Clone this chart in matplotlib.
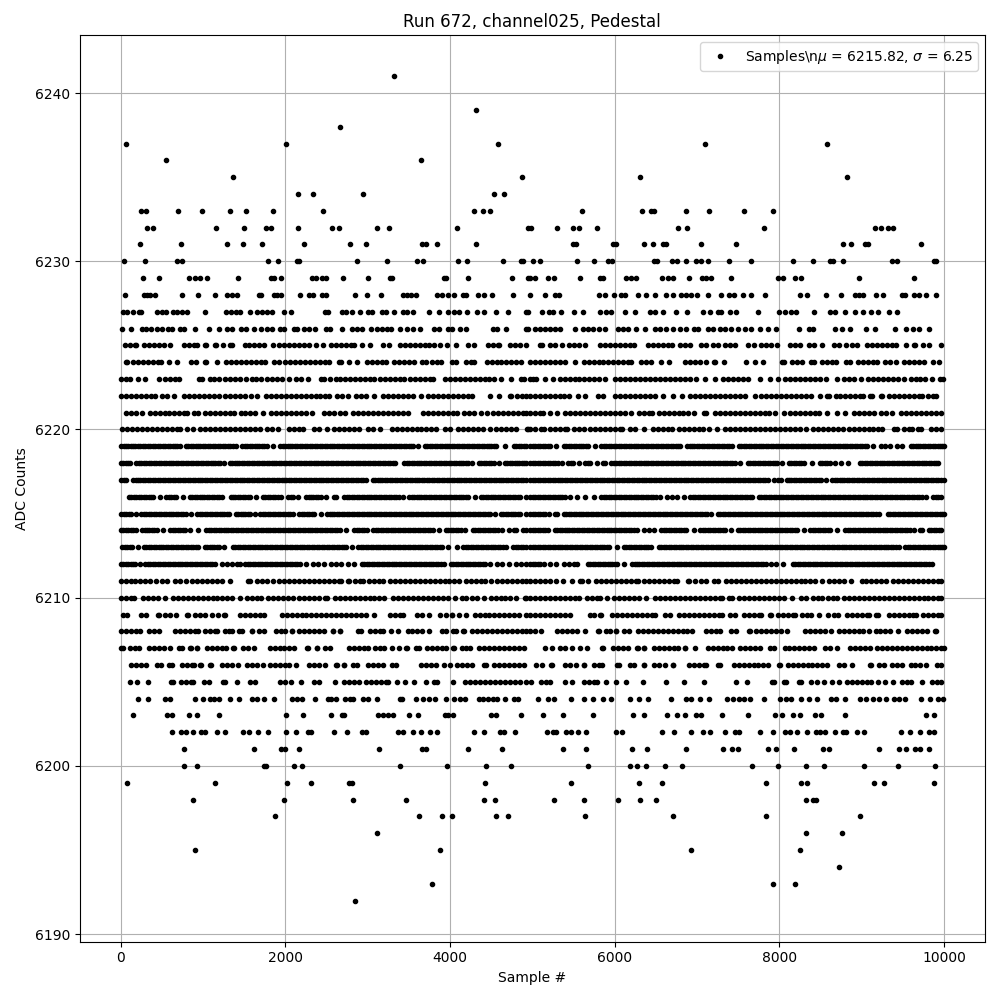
import matplotlib
matplotlib.use("Agg")
import matplotlib.pyplot as plt

title = "Run 672, channel025, Pedestal"
legend_label = "Samples\\n$\\mu$ = 6215.82, $\\sigma$ = 6.25"

x_6241 = [3317]
x_6239 = [4311]
x_6238 = [2662]
x_6237 = [69, 2008, 4589, 7102, 8584]
x_6236 = [553, 3644]
x_6235 = [1366, 4880, 6312, 8827]
x_6234 = [2153, 2335, 2941, 4529, 4662]
x_6233 = [250, 311, 699, 990, 1329, 1523, 1850, 2456, 4286, 4396, 4492, 5607, 6336, 6446, 6478, 6871, 7150, 7575, 7928]
x_6232 = [323, 396, 1159, 1499, 1765, 1826, 2153, 2565, 2650, 3111, 3256, 4080, 4949, 4979, 5303, 5498, 5571, 5789, 6774, 6883, 7818, 9167, 9232, 9321, 9382]
x_6231 = [238, 735, 1293, 1487, 1717, 2226, 2784, 2977, 3664, 3705, 3838, 4311, 5498, 5530, 5980, 6020, 6360, 6470, 6591, 6624, 7053, 7478, 8778, 8875, 9038, 9078, 9726]
x_6230 = [44, 299, 687, 747, 1790, 1915, 2141, 2165, 2868, 3232, 3604, 3672, 4092, 4202, 4650, 4868, 4892, 5012, 5097, 5538, 5753, 5919, 5968, 6478, 6510, 6693, 6761, 6863, 6992, 7053, 7130, 7393, 7660, 8163, 8414, 8612, 8653, 8778, 9366, 9434, 9880, 9904]
x_6229 = [275, 469, 836, 909, 970, 1050, 1426, 1826, 1866, 1947, 2323, 2371, 2440, 2493, 2699, 3002, 3268, 3293, 3923, 3947, 4214, 4759, 4949, 4967, 5028, 5190, 5263, 5583, 5822, 5858, 6142, 6194, 6263, 6579, 6648, 6709, 6899, 7065, 7114, 7175, 7418, 7985, 8045, 8195, 8268, 8973, 9633]
x_6228 = [57, 287, 323, 360, 420, 747, 941, 1147, 1293, 1353, 1414, 1681, 1705, 1862, 1899, 1951, 2178, 2287, 2335, 2444, 2493, 2844, 2990, 3167, 3426, 3474, 3523, 3583, 3838, 3899, 3979, 4044, 4153, 4190, 4335, 4408, 4505, 4771, 4967, 5158, 5271, 5328, 5806, 5887, 5988, 6073, 6130, 6284, 6385, 6486, 6628, 6709, 6802, 6871, 6932, 7000, 7138, 7296, 7393, 7450, 7563, 7660, 7831, 8256, 8341, 8572, 8754, 8916, 8965, 9017, 9179, 9264, 9491, 9524, 9633, 9698, 9787, 9908]
x_6227 = [28, 77, 154, 226, 250, 444, 505, 545, 638, 687, 747, 808, 1026, 1281, 1337, 1398, 1446, 1572, 1656, 1717, 1778, 1838, 1984, 2068, 2481, 2517, 2687, 2735, 2808, 2905, 3002, 3050, 3171, 3220, 3317, 3426, 3474, 3547, 3741, 3862, 3979, 4044, 4105, 4202, 4323, 4408, 4565, 4699, 4929, 4947, 5120, 5198, 5251, 5352, 5502, 5615, 5818, 5899, 5960, 6122, 6251, 6425, 6486, 6587, 6749, 6883, 7073, 7162, 7255, 7296, 7397, 7478, 7737, 7993, 8065, 8138, 8207, 8418, 8612, 8681, 8794, 8916, 9017, 9119, 9200, 9329, 9426]
x_6226 = [20, 129, 263, 311, 364, 444, 505, 578, 626, 727, 768, 909, 1071, 1196, 1293, 1353, 1462, 1519, 1620, 1709, 1778, 1838, 1939, 1980, 2101, 2141, 2222, 2283, 2363, 2493, 2545, 2687, 2808, 2868, 2929, 3038, 3111, 3171, 3232, 3280, 3390, 3474, 3555, 3636, 3806, 3866, 3971, 4020, 4121, 4190, 4525, 4577, 4686, 4929, 4947, 5028, 5089, 5150, 5210, 5271, 5332, 5522, 5615, 5676, 5737, 5806, 5879, 6040, 6101, 6162, 6263, 6365, 6486, 6547, 6628, 6709, 6790, 6871, 6960, 7012, 7134, 7195, 7276, 7336, 7417, 7498, 7579, 7660, 7762, 7863, 7964, 8244, 8357, 8410, 8673, 8762, 8863, 9050, 9163, 9410, 9544, 9625, 9694, 9815]
x_6225 = [50, 110, 170, 192, 285, 345, 405, 465, 525, 596, 765, 825, 885, 927, 1028, 1033, 1141, 1154, 1242, 1323, 1356, 1505, 1565, 1625, 1685, 1745, 1849, 1929, 1990, 2050, 2110, 2170, 2230, 2290, 2374, 2454, 2555, 2615, 2675, 2735, 2795, 2838, 2929, 3026, 3189, 3263, 3395, 3455, 3515, 3575, 3635, 3695, 3747, 3808, 3877, 3969, 4078, 4220, 4293, 4458, 4518, 4578, 4600, 4733, 4793, 4853, 4919, 5098, 5119, 5212, 5272, 5355, 5443, 5503, 5563, 5646, 5827, 5887, 5947, 6007, 6067, 6127, 6187, 6237, 6403, 6463, 6523, 6583, 6643, 6699, 6791, 6851, 6910, 7055, 7104, 7196, 7258, 7346, 7406, 7468, 7617, 7691, 7779, 7839, 7899, 7970, 8136, 8196, 8246, 8359, 8419, 8513, 8662, 8722, 8805, 8885, 8939, 9068, 9128, 9188, 9248, 9308, 9368, 9413, 9534, 9635, 9648, 9748, 9818, 9969]
x_6224 = [62, 75, 151, 211, 271, 331, 391, 451, 495, 586, 687, 850, 919, 1020, 1041, 1173, 1282, 1342, 1402, 1462, 1522, 1582, 1642, 1702, 1748, 1860, 1921, 1998, 2058, 2118, 2178, 2238, 2298, 2358, 2418, 2478, 2535, 2656, 2677, 2777, 2867, 2991, 3051, 3111, 3171, 3218, 3318, 3378, 3438, 3498, 3558, 3666, 3707, 3787, 3847, 3897, 4030, 4071, 4191, 4251, 4293, 4446, 4506, 4566, 4626, 4686, 4746, 4806, 4859, 4977, 5037, 5097, 5157, 5217, 5277, 5337, 5403, 5524, 5625, 5685, 5745, 5805, 5865, 5925, 5985, 6045, 6105, 6165, 6193, 6322, 6382, 6436, 6567, 6664, 6852, 6912, 6972, 7032, 7104, 7205, 7225, 7330, 7599, 7705, 7806, 8035, 8056, 8156, 8216, 8279, 8391, 8420, 8521, 8581, 8641, 8692, 8816, 8857, 8954, 9014, 9074, 9134, 9190, 9282, 9342, 9413, 9513, 9573, 9633, 9693, 9757, 9865, 9939]
x_6223 = [5, 60, 110, 210, 290, 465, 543, 600, 655, 709, 947, 992, 1080, 1135, 1200, 1270, 1330, 1390, 1450, 1525, 1593, 1650, 1707, 1775, 1840, 1900, 1960, 2050, 2130, 2190, 2273, 2434, 2475, 2547, 2610, 2670, 2730, 2790, 2850, 2910, 2970, 3030, 3081, 3153, 3215, 3275, 3335, 3395, 3444, 3516, 3580, 3640, 3700, 3760, 3788, 3937, 4000, 4060, 4120, 4180, 4240, 4300, 4360, 4420, 4480, 4540, 4616, 4739, 4868, 4900, 4977, 5006, 5050, 5160, 5250, 5333, 5393, 5453, 5513, 5573, 5633, 5693, 5753, 5813, 5889, 6010, 6070, 6130, 6190, 6250, 6310, 6370, 6430, 6490, 6550, 6610, 6670, 6730, 6790, 6850, 6910, 6990, 7103, 7225, 7314, 7374, 7434, 7494, 7554, 7622, 7763, 7886, 7990, 8075, 8135, 8195, 8255, 8315, 8375, 8435, 8495, 8562, 8705, 8792, 8852, 8912, 8987, 9080, 9140, 9200, 9260, 9320, 9380, 9440, 9514, 9595, 9655, 9715, 9775, 9850, 9950, 9985]
x_6222 = [10, 70, 130, 190, 250, 310, 370, 414, 503, 560, 645, 770, 830, 890, 950, 1010, 1070, 1130, 1190, 1270, 1330, 1390, 1450, 1510, 1586, 1656, 1767, 1827, 1887, 1947, 2007, 2067, 2127, 2187, 2247, 2307, 2367, 2427, 2487, 2535, 2628, 2690, 2766, 2858, 2920, 2980, 3073, 3189, 3249, 3309, 3369, 3429, 3489, 3549, 3646, 3735, 3795, 3855, 3915, 3975, 4035, 4095, 4155, 4215, 4265, 4486, 4596, 4729, 4737, 4818, 4878, 4919, 4977, 5037, 5097, 5157, 5217, 5277, 5337, 5382, 5450, 5552, 5646, 5795, 5860, 6010, 6070, 6130, 6190, 6250, 6310, 6370, 6430, 6490, 6590, 6706, 6820, 6920, 6980, 7040, 7100, 7160, 7220, 7280, 7340, 7400, 7460, 7520, 7578, 7701, 7784, 7844, 7904, 7964, 8024, 8084, 8144, 8204, 8264, 8324, 8384, 8489, 8574, 8602, 8683, 8743, 8803, 8863, 8923, 8983, 9016, 9100, 9130, 9237, 9250, 9338, 9398, 9458, 9518, 9578, 9638, 9698, 9728, 9805, 9865, 9907]
x_6221 = [70, 130, 190, 265, 353, 413, 473, 533, 593, 653, 713, 773, 806, 887, 940, 1028, 1088, 1148, 1208, 1268, 1328, 1376, 1456, 1516, 1576, 1636, 1727, 1828, 1888, 1948, 2008, 2068, 2128, 2188, 2248, 2325, 2466, 2526, 2586, 2669, 2727, 2826, 2886, 2946, 3006, 3066, 3126, 3186, 3246, 3306, 3366, 3426, 3493, 3674, 3734, 3794, 3854, 3914, 3978, 4038, 4091, 4171, 4231, 4291, 4382, 4456, 4527, 4587, 4647, 4707, 4767, 4827, 4887, 4919, 4977, 5037, 5097, 5128, 5212, 5302, 5402, 5462, 5522, 5582, 5642, 5702, 5762, 5822, 5882, 5942, 6002, 6062, 6122, 6205, 6293, 6353, 6413, 6456, 6536, 6596, 6656, 6716, 6776, 6836, 6896, 6970, 7091, 7112, 7225, 7285, 7345, 7405, 7465, 7525, 7585, 7645, 7705, 7765, 7825, 7874, 7954, 8056, 8128, 8188, 8248, 8308, 8368, 8428, 8481, 8584, 8703, 8793, 8906, 8966, 9026, 9086, 9150, 9237, 9297, 9364, 9480, 9540, 9600, 9660, 9720, 9780, 9840, 9900, 9960]
x_6220 = [20, 80, 140, 200, 260, 320, 380, 440, 500, 560, 620, 680, 717, 810, 879, 967, 1027, 1087, 1147, 1207, 1267, 1327, 1387, 1447, 1507, 1567, 1627, 1695, 1775, 1840, 1909, 2050, 2110, 2170, 2212, 2353, 2413, 2503, 2595, 2655, 2715, 2775, 2835, 2891, 3007, 3067, 3150, 3294, 3354, 3414, 3474, 3534, 3594, 3654, 3714, 3774, 3828, 3937, 3998, 4098, 4158, 4218, 4278, 4338, 4398, 4483, 4563, 4623, 4683, 4743, 4798, 4930, 4945, 4972, 5038, 5100, 5148, 5220, 5280, 5340, 5400, 5423, 5503, 5563, 5623, 5695, 5767, 5827, 5887, 5947, 6007, 6067, 6090, 6192, 6252, 6355, 6463, 6523, 6583, 6643, 6699, 6779, 6839, 6899, 6959, 7019, 7079, 7144, 7240, 7346, 7406, 7466, 7526, 7586, 7646, 7706, 7766, 7826, 7886, 7946, 8006, 8066, 8126, 8186, 8246, 8319, 8411, 8471, 8531, 8591, 8651, 8711, 8772, 8844, 8904, 8964, 9024, 9084, 9144, 9204, 9250, 9399, 9433, 9514, 9574, 9607, 9684, 9720, 9840, 9900, 9960]
x_6219 = [5, 60, 120, 180, 240, 300, 360, 420, 480, 540, 600, 660, 717, 790, 850, 910, 970, 1030, 1090, 1150, 1210, 1270, 1330, 1404, 1476, 1536, 1596, 1656, 1716, 1776, 1848, 1937, 1997, 2057, 2117, 2177, 2237, 2297, 2357, 2417, 2477, 2537, 2597, 2657, 2717, 2777, 2837, 2897, 2957, 3017, 3077, 3137, 3197, 3257, 3317, 3377, 3437, 3497, 3557, 3606, 3694, 3754, 3814, 3874, 3934, 3994, 4054, 4114, 4174, 4234, 4294, 4354, 4414, 4474, 4534, 4563, 4666, 4777, 4837, 4897, 4919, 4977, 5037, 5097, 5157, 5217, 5290, 5382, 5442, 5502, 5562, 5622, 5682, 5767, 5840, 5900, 5960, 6020, 6080, 6140, 6200, 6260, 6320, 6380, 6440, 6500, 6560, 6620, 6680, 6740, 6800, 6880, 6940, 7000, 7060, 7120, 7180, 7240, 7300, 7360, 7420, 7508, 7568, 7628, 7688, 7748, 7808, 7868, 7928, 7988, 8048, 8108, 8168, 8228, 8288, 8348, 8408, 8468, 8528, 8588, 8648, 8708, 8768, 8828, 8888, 8948, 9008, 9068, 9140, 9237, 9290, 9350, 9430, 9495, 9595, 9655, 9715, 9775, 9835, 9895, 9955, 9999]
x_6218 = [5, 60, 111, 192, 252, 312, 372, 432, 492, 552, 612, 672, 732, 792, 852, 912, 972, 1032, 1092, 1152, 1212, 1250, 1323, 1383, 1443, 1503, 1563, 1623, 1683, 1743, 1803, 1863, 1923, 1983, 2043, 2103, 2163, 2223, 2283, 2343, 2403, 2463, 2523, 2583, 2643, 2703, 2763, 2823, 2883, 2943, 3003, 3063, 3123, 3183, 3243, 3303, 3335, 3444, 3504, 3564, 3624, 3684, 3744, 3804, 3864, 3924, 3984, 4044, 4104, 4164, 4224, 4273, 4353, 4413, 4473, 4533, 4596, 4664, 4724, 4784, 4844, 4904, 4919, 4977, 5037, 5097, 5157, 5217, 5277, 5362, 5435, 5495, 5573, 5645, 5705, 5788, 5860, 5889, 5961, 6021, 6081, 6141, 6201, 6261, 6321, 6381, 6441, 6501, 6561, 6621, 6681, 6741, 6801, 6861, 6921, 6981, 7041, 7101, 7161, 7221, 7281, 7341, 7401, 7461, 7529, 7618, 7678, 7738, 7798, 7858, 7918, 7978, 8036, 8116, 8176, 8236, 8296, 8400, 8492, 8552, 8612, 8671, 8755, 8837, 8978, 9038, 9098, 9158, 9218, 9278, 9338, 9398, 9458, 9518, 9578, 9638, 9698, 9758, 9818, 9878, 9927]
x_6217 = [10, 71, 151, 211, 271, 331, 391, 451, 511, 571, 596, 664, 724, 784, 844, 904, 964, 1024, 1084, 1144, 1204, 1264, 1324, 1384, 1444, 1504, 1564, 1624, 1684, 1744, 1804, 1864, 1924, 1984, 2044, 2104, 2164, 2224, 2284, 2344, 2404, 2464, 2524, 2584, 2644, 2704, 2764, 2824, 2884, 2944, 2980, 3060, 3120, 3180, 3240, 3300, 3360, 3420, 3480, 3540, 3600, 3660, 3720, 3780, 3840, 3900, 3960, 4020, 4080, 4140, 4200, 4260, 4320, 4380, 4440, 4500, 4560, 4620, 4680, 4740, 4800, 4860, 4919, 4977, 5037, 5097, 5157, 5217, 5277, 5337, 5397, 5457, 5517, 5577, 5637, 5697, 5757, 5817, 5877, 5937, 5997, 6057, 6117, 6177, 6237, 6297, 6357, 6417, 6477, 6537, 6597, 6657, 6717, 6777, 6837, 6897, 6957, 7017, 7077, 7137, 7197, 7257, 7317, 7377, 7437, 7497, 7557, 7617, 7677, 7737, 7797, 7865, 7942, 8015, 8088, 8148, 8208, 8268, 8328, 8388, 8448, 8508, 8562, 8642, 8702, 8762, 8822, 8882, 8942, 9002, 9062, 9122, 9182, 9242, 9302, 9362, 9422, 9482, 9542, 9602, 9662, 9722, 9782, 9842, 9902, 9962, 9999]
x_6216 = [99, 159, 219, 279, 339, 399, 475, 555, 615, 675, 758, 838, 898, 958, 1018, 1078, 1138, 1198, 1235, 1335, 1395, 1455, 1515, 1575, 1647, 1727, 1787, 1847, 1907, 1950, 2038, 2098, 2152, 2252, 2312, 2372, 2432, 2495, 2595, 2616, 2717, 2777, 2837, 2897, 2957, 3017, 3077, 3137, 3197, 3257, 3317, 3377, 3432, 3504, 3564, 3624, 3684, 3744, 3804, 3864, 3924, 3984, 4044, 4104, 4164, 4224, 4301, 4373, 4433, 4493, 4553, 4613, 4673, 4733, 4793, 4853, 4919, 4977, 5037, 5097, 5157, 5217, 5277, 5337, 5397, 5464, 5544, 5638, 5745, 5840, 5900, 5960, 6020, 6080, 6140, 6200, 6260, 6320, 6380, 6440, 6500, 6549, 6637, 6697, 6757, 6840, 6921, 6981, 7041, 7101, 7161, 7221, 7281, 7341, 7401, 7461, 7521, 7581, 7641, 7671, 7751, 7811, 7871, 7931, 7991, 8051, 8111, 8171, 8231, 8291, 8351, 8411, 8471, 8531, 8591, 8651, 8711, 8771, 8831, 8891, 8951, 9011, 9071, 9131, 9191, 9251, 9311, 9371, 9431, 9491, 9551, 9611, 9671, 9731, 9777, 9869, 9929, 9970]
x_6215 = [10, 70, 130, 184, 252, 312, 372, 432, 492, 552, 612, 672, 732, 792, 859, 931, 991, 1051, 1111, 1171, 1231, 1291, 1315, 1396, 1456, 1516, 1576, 1626, 1698, 1758, 1818, 1878, 1938, 1998, 2058, 2091, 2171, 2231, 2291, 2351, 2434, 2507, 2567, 2627, 2687, 2747, 2807, 2867, 2927, 2987, 3047, 3107, 3167, 3227, 3287, 3347, 3407, 3467, 3527, 3587, 3647, 3707, 3767, 3827, 3887, 3947, 4007, 4067, 4127, 4187, 4247, 4307, 4367, 4427, 4487, 4543, 4616, 4676, 4736, 4796, 4856, 4919, 4977, 5037, 5097, 5157, 5200, 5280, 5302, 5382, 5442, 5502, 5562, 5622, 5682, 5742, 5802, 5862, 5922, 5982, 6042, 6102, 6162, 6222, 6282, 6342, 6402, 6462, 6522, 6582, 6642, 6702, 6762, 6822, 6882, 6942, 7002, 7062, 7122, 7165, 7253, 7313, 7373, 7433, 7493, 7553, 7613, 7673, 7733, 7793, 7853, 7913, 7973, 8033, 8093, 8153, 8213, 8273, 8333, 8393, 8453, 8513, 8573, 8633, 8693, 8753, 8813, 8873, 8933, 8993, 9053, 9113, 9173, 9210, 9318, 9378, 9438, 9498, 9558, 9618, 9678, 9738, 9798, 9858, 9918, 9978, 9999]
x_6214 = [2, 60, 120, 192, 260, 320, 380, 440, 515, 604, 664, 724, 784, 840, 940, 1040, 1100, 1160, 1220, 1280, 1340, 1400, 1460, 1520, 1580, 1640, 1700, 1760, 1820, 1880, 1940, 2000, 2060, 2120, 2180, 2240, 2300, 2360, 2420, 2480, 2540, 2600, 2660, 2737, 2838, 2898, 2958, 2988, 3068, 3128, 3188, 3248, 3308, 3368, 3428, 3488, 3548, 3608, 3668, 3728, 3788, 3869, 3949, 4009, 4069, 4129, 4180, 4280, 4340, 4400, 4460, 4520, 4580, 4636, 4716, 4776, 4806, 4890, 4919, 4977, 5037, 5097, 5157, 5192, 5272, 5332, 5392, 5452, 5512, 5572, 5632, 5692, 5752, 5812, 5872, 5932, 5992, 6052, 6112, 6172, 6232, 6266, 6354, 6414, 6484, 6568, 6628, 6688, 6748, 6808, 6868, 6962, 7042, 7102, 7162, 7222, 7282, 7342, 7408, 7496, 7556, 7616, 7676, 7736, 7796, 7856, 7916, 7976, 8036, 8096, 8156, 8216, 8302, 8379, 8439, 8499, 8559, 8619, 8703, 8804, 8864, 8924, 8984, 9044, 9104, 9164, 9224, 9284, 9344, 9404, 9464, 9524, 9584, 9635, 9707, 9736, 9817, 9877, 9937, 9970]
x_6213 = [18, 78, 138, 212, 280, 340, 400, 460, 520, 580, 640, 700, 760, 820, 880, 940, 1020, 1080, 1140, 1200, 1255, 1363, 1423, 1483, 1543, 1603, 1663, 1723, 1783, 1843, 1903, 1963, 2023, 2083, 2143, 2203, 2263, 2323, 2383, 2443, 2503, 2563, 2623, 2683, 2743, 2810, 2886, 2946, 3006, 3066, 3126, 3186, 3246, 3306, 3366, 3426, 3486, 3546, 3606, 3666, 3726, 3786, 3846, 3906, 3982, 4080, 4163, 4223, 4283, 4343, 4403, 4463, 4523, 4583, 4643, 4685, 4769, 4829, 4889, 4919, 4977, 5037, 5097, 5157, 5217, 5277, 5337, 5397, 5457, 5517, 5577, 5637, 5697, 5757, 5817, 5877, 5937, 6030, 6111, 6171, 6231, 6291, 6351, 6411, 6444, 6536, 6596, 6656, 6716, 6776, 6836, 6896, 6956, 7016, 7076, 7136, 7196, 7256, 7316, 7376, 7436, 7496, 7556, 7616, 7676, 7736, 7796, 7856, 7916, 7976, 8036, 8096, 8156, 8216, 8276, 8336, 8396, 8456, 8516, 8576, 8636, 8696, 8756, 8816, 8876, 8936, 8996, 9056, 9116, 9176, 9236, 9296, 9356, 9416, 9453, 9533, 9593, 9653, 9713, 9773, 9833, 9893, 9953, 9999]
x_6212 = [2, 60, 120, 180, 233, 301, 361, 421, 481, 541, 601, 661, 721, 781, 841, 901, 961, 1021, 1081, 1142, 1234, 1294, 1354, 1414, 1445, 1513, 1573, 1633, 1693, 1753, 1813, 1873, 1933, 1993, 2053, 2113, 2173, 2253, 2333, 2393, 2471, 2555, 2615, 2675, 2758, 2840, 2930, 2990, 3050, 3110, 3170, 3230, 3290, 3350, 3410, 3470, 3530, 3590, 3650, 3710, 3770, 3830, 3890, 3929, 4009, 4069, 4129, 4189, 4249, 4309, 4369, 4429, 4483, 4567, 4627, 4717, 4797, 4857, 4919, 4977, 5037, 5097, 5140, 5212, 5290, 5390, 5450, 5510, 5549, 5674, 5734, 5794, 5854, 5914, 5974, 6034, 6112, 6212, 6272, 6332, 6392, 6452, 6512, 6572, 6632, 6692, 6752, 6812, 6872, 6932, 6992, 7052, 7112, 7172, 7232, 7292, 7352, 7412, 7472, 7532, 7592, 7652, 7712, 7772, 7833, 7901, 7961, 8048, 8164, 8224, 8284, 8344, 8404, 8464, 8524, 8584, 8644, 8704, 8764, 8824, 8884, 8944, 9004, 9064, 9124, 9184, 9244, 9304, 9364, 9424, 9484, 9544, 9604, 9664, 9724, 9784, 9850]
x_6211 = [2, 60, 120, 180, 240, 300, 360, 435, 507, 564, 664, 724, 790, 870, 930, 990, 1050, 1110, 1170, 1230, 1323, 1553, 1566, 1658, 1718, 1778, 1849, 1929, 1989, 2049, 2109, 2169, 2229, 2289, 2349, 2409, 2469, 2529, 2589, 2649, 2677, 2757, 2770, 2850, 2910, 2939, 3020, 3080, 3140, 3190, 3274, 3334, 3394, 3454, 3514, 3574, 3634, 3694, 3754, 3814, 3874, 3934, 3994, 4054, 4111, 4191, 4251, 4311, 4371, 4431, 4503, 4575, 4635, 4695, 4755, 4815, 4875, 4919, 4977, 5037, 5097, 5157, 5217, 5282, 5370, 5484, 5577, 5606, 5680, 5779, 5839, 5899, 5959, 6019, 6079, 6139, 6199, 6259, 6286, 6362, 6422, 6482, 6542, 6602, 6662, 6722, 6760, 6889, 6901, 6982, 7050, 7112, 7204, 7258, 7358, 7418, 7478, 7538, 7598, 7658, 7718, 7778, 7838, 7898, 7958, 8018, 8078, 8138, 8198, 8258, 8318, 8378, 8438, 8522, 8602, 8662, 8722, 8782, 8873, 8999, 9059, 9119, 9179, 9239, 9299, 9383, 9443, 9503, 9563, 9623, 9683, 9743, 9803, 9863, 9923, 9960]
x_6210 = [10, 70, 130, 160, 272, 332, 392, 452, 536, 636, 696, 756, 816, 876, 936, 996, 1056, 1116, 1176, 1236, 1296, 1356, 1445, 1537, 1597, 1657, 1707, 1787, 1847, 1907, 1967, 2027, 2091, 2171, 2231, 2291, 2351, 2414, 2482, 2503, 2603, 2663, 2723, 2783, 2843, 2903, 2963, 3023, 3083, 3141, 3202, 3314, 3374, 3434, 3494, 3554, 3614, 3674, 3734, 3794, 3854, 3914, 3974, 4062, 4143, 4192, 4272, 4332, 4414, 4494, 4554, 4614, 4674, 4734, 4798, 4906, 4919, 4977, 5037, 5097, 5157, 5217, 5277, 5337, 5397, 5457, 5517, 5573, 5666, 5726, 5786, 5828, 5911, 5998, 6058, 6118, 6178, 6238, 6298, 6387, 6496, 6556, 6616, 6676, 6736, 6796, 6856, 6916, 6976, 7036, 7096, 7156, 7216, 7276, 7307, 7387, 7420, 7516, 7576, 7636, 7696, 7756, 7816, 7876, 7936, 7996, 8056, 8157, 8266, 8319, 8411, 8471, 8513, 8590, 8650, 8696, 8792, 8852, 8912, 8972, 9032, 9092, 9152, 9212, 9272, 9332, 9392, 9452, 9512, 9572, 9632, 9692, 9752, 9812, 9872, 9932, 9960]
x_6209 = [30, 79, 252, 313, 462, 455, 543, 603, 669, 810, 818, 899, 959, 1020, 1109, 1182, 1262, 1255, 1452, 1512, 1572, 1632, 1692, 1740, 1957, 2017, 2077, 2137, 2197, 2257, 2317, 2377, 2437, 2497, 2557, 2617, 2677, 2737, 2797, 2857, 2917, 2977, 3073, 3274, 3334, 3394, 3432, 3605, 3665, 3748, 3880, 3949, 4030, 4022, 4110, 4200, 4300, 4360, 4420, 4480, 4540, 4600, 4660, 4720, 4780, 4840, 4919, 4977, 5037, 5097, 5157, 5217, 5277, 5337, 5397, 5464, 5698, 5747, 5835, 5824, 5970, 6030, 6090, 6150, 6210, 6270, 6330, 6390, 6450, 6488, 6617, 6667, 6787, 6847, 6907, 6967, 7027, 7087, 7147, 7207, 7267, 7307, 7399, 7468, 7569, 7629, 7689, 7749, 7772, 7893, 7894, 7982, 8042, 8102, 8162, 8197, 8278, 8338, 8380, 8480, 8594, 8670, 8712, 8824, 8884, 8944, 9004, 9064, 9089, 9169, 9202, 9330, 9390, 9450, 9510, 9570, 9630, 9656, 9748, 9808, 9868, 9928, 9970]
x_6208 = [10, 70, 130, 190, 240, 341, 401, 467, 664, 724, 784, 844, 904, 940, 1028, 1088, 1148, 1170, 1262, 1322, 1352, 1432, 1477, 1593, 1598, 1686, 1740, 1888, 1948, 2002, 2086, 2083, 2171, 2231, 2291, 2351, 2411, 2475, 2575, 2576, 2664, 2665, 2878, 2919, 3027, 3087, 3147, 3190, 3282, 3364, 3485, 3545, 3605, 3665, 3740, 3909, 3958, 4042, 4079, 4171, 4160, 4272, 4332, 4392, 4452, 4512, 4572, 4632, 4692, 4752, 4812, 4872, 4919, 4977, 5037, 5100, 5305, 5365, 5425, 5485, 5545, 5638, 5807, 5800, 5900, 5938, 6022, 6019, 6119, 6180, 6285, 6345, 6405, 6465, 6525, 6585, 6645, 6705, 6765, 6825, 6885, 6934, 7111, 7171, 7231, 7274, 7419, 7477, 7639, 7638, 7723, 7783, 7843, 7903, 7963, 8023, 8096, 8318, 8378, 8438, 8498, 8558, 8623, 8723, 8783, 8843, 8903, 8963, 9023, 9089, 9169, 9229, 9289, 9349, 9445, 9553, 9613, 9673, 9733, 9793, 9901, 9891]
x_6207 = [2, 30, 111, 171, 225, 341, 401, 461, 521, 604, 705, 750, 850, 847, 931, 928, 1052, 1112, 1172, 1232, 1283, 1371, 1364, 1492, 1552, 1618, 1820, 1880, 1940, 1990, 2050, 2103, 2264, 2281, 2385, 2382, 2482, 2544, 2777, 2837, 2897, 2957, 3000, 3088, 3148, 3202, 3294, 3384, 3472, 3473, 3585, 3618, 3727, 3787, 3847, 3907, 3958, 4050, 4042, 4143, 4200, 4240, 4353, 4413, 4473, 4533, 4593, 4653, 4713, 4773, 4833, 4899, 5160, 5242, 5342, 5402, 5484, 5585, 5666, 5848, 5858, 5977, 6037, 6097, 6164, 6281, 6274, 6362, 6363, 6484, 6544, 6604, 6664, 6724, 6772, 6860, 6861, 6982, 7131, 7191, 7251, 7311, 7371, 7420, 7520, 7580, 7640, 7700, 7760, 7893, 7934, 8064, 8124, 8184, 8244, 8304, 8364, 8420, 8561, 8621, 8703, 8865, 8925, 8985, 9045, 9097, 9189, 9249, 9309, 9369, 9429, 9489, 9549, 9609, 9669, 9729, 9789, 9849, 9909, 9969, 9999]
x_6206 = [131, 191, 251, 313, 446, 495, 583, 629, 749, 809, 869, 891, 971, 968, 1093, 1089, 1230, 1290, 1350, 1424, 1533, 1593, 1653, 1727, 1816, 1876, 1936, 1996, 2051, 2131, 2293, 2353, 2413, 2487, 2616, 2624, 2717, 2717, 2818, 2867, 3007, 3067, 3127, 3182, 3294, 3343, 3654, 3714, 3774, 3836, 3929, 3998, 4082, 4142, 4202, 4265, 4414, 4443, 4535, 4595, 4655, 4715, 4775, 4835, 4899, 5050, 5120, 5229, 5234, 5402, 5462, 5537, 5633, 5634, 5747, 5807, 5849, 6030, 6059, 6184, 6233, 6362, 6363, 6484, 6544, 6606, 6710, 6715, 6901, 6961, 7021, 7081, 7116, 7253, 7286, 7447, 7507, 7567, 7627, 7687, 7747, 7807, 7865, 8002, 8003, 8103, 8163, 8223, 8283, 8343, 8403, 8463, 8523, 8574, 8731, 8791, 8886, 9108, 9109, 9210, 9271, 9372, 9432, 9486, 9594, 9654, 9714, 9777, 9910, 9970]
x_6205 = [119, 200, 335, 616, 637, 737, 797, 857, 879, 1008, 1073, 1242, 1263, 1414, 1577, 1626, 1937, 1997, 2071, 2190, 2353, 2414, 2602, 2717, 2777, 2837, 2899, 2979, 3039, 3099, 3159, 3219, 3250, 3353, 3454, 3563, 3705, 3808, 3848, 4036, 4187, 4247, 4307, 4367, 4427, 4487, 4547, 4607, 4667, 4727, 4787, 4847, 4919, 4980, 5110, 5170, 5220, 5393, 5484, 5625, 5685, 5745, 5788, 5899, 6020, 6142, 6348, 6628, 6846, 7089, 7478, 7612, 7913, 7942, 8055, 8084, 8237, 8258, 8391, 8461, 8547, 8642, 8722, 8824, 8884, 8944, 9004, 9064, 9109, 9200, 9289, 9386, 9493, 9553, 9603, 9734, 9857, 9917, 9970]
x_6204 = [214, 335, 533, 594, 909, 998, 1091, 1131, 1200, 1333, 1434, 1600, 1660, 1737, 1866, 2076, 2145, 2202, 2363, 2517, 2554, 2614, 2727, 2788, 2828, 2949, 3010, 3115, 3394, 3422, 3584, 3677, 3746, 3818, 3951, 4052, 4117, 4182, 4355, 4404, 4465, 4525, 4574, 4667, 4780, 4828, 5072, 5190, 5263, 5474, 5627, 5737, 5862, 5960, 6190, 6292, 6409, 6688, 6871, 6932, 7041, 7150, 7369, 7438, 7507, 7571, 7640, 7818, 8005, 8086, 8147, 8269, 8366, 8462, 8633, 8693, 8795, 8977, 9058, 9139, 9208, 9301, 9390, 9451, 9524, 9726, 9827, 9932, 9993]
x_6203 = [154, 566, 626, 832, 933, 1196, 2008, 2214, 2553, 2687, 2719, 3123, 3192, 3252, 3313, 3503, 3608, 3939, 3971, 4032, 4497, 4557, 4868, 5133, 5376, 5741, 6227, 6360, 6640, 6761, 6859, 6992, 7053, 7308, 7624, 7952, 8037, 8171, 8256, 8430, 8511, 8803, 9787, 9884]
x_6202 = [626, 735, 796, 881, 982, 1030, 1172, 1269, 1487, 1559, 1669, 1790, 2008, 2129, 2275, 2311, 2590, 2747, 2937, 2982, 3365, 3426, 3547, 3644, 3753, 3838, 4291, 4408, 4606, 4654, 4796, 5181, 5251, 5292, 5413, 5465, 5559, 5656, 6020, 6093, 6579, 6725, 6932, 7077, 7162, 7345, 7466, 7507, 7770, 7924, 8073, 8134, 8219, 8341, 8450, 8491, 8560, 8681, 8774, 8815, 8948, 9025, 9483, 9592, 9714, 9815, 9876]
x_6201 = [772, 1620, 1947, 1992, 2165, 3135, 3656, 3705, 4214, 4638, 5376, 5656, 6215, 6397, 6871, 7320, 7430, 7503, 7867, 7964, 8183, 8535, 8608, 9216, 9451, 9544, 9653, 9714, 9823]
x_6200 = [772, 929, 1745, 1770, 2109, 2202, 3390, 3959, 4432, 4747, 5680, 6190, 6275, 6385, 6616, 6822, 7673, 7989, 8329, 8547, 9033, 9447, 9896]
x_6199 = [81, 1147, 2020, 2311, 2776, 2816, 4420, 5474, 6300, 6579, 7843, 8268, 8341, 9155, 9276, 9884]
x_6198 = [881, 1984, 2820, 3462, 4408, 4553, 5267, 5631, 6045, 6312, 6506, 8329, 8410, 8450]
x_6197 = [1875, 3620, 3899, 4020, 4565, 4711, 5644, 6713, 7843, 8985]
x_6196 = [3111, 8329, 8766]
x_6195 = [905, 3874, 6932, 8256]
x_6194 = [8725]
x_6193 = [3777, 7928, 8195]
x_6192 = [2844]

# further samples read from the near-continuous core rows
more_6219 = [35, 90, 150, 210, 270, 330, 390, 450, 510, 570, 630, 690, 820, 880, 940, 1000, 1060, 1120, 1180, 1240, 1300, 1365, 1506, 1566, 1626, 1686, 1746, 1967, 2027, 2087, 2147, 2207, 2267, 2327, 2387, 2447, 2507, 2567, 2627, 2687, 2747, 2807, 2867, 2927, 2987, 3047, 3107, 3167, 3227, 3287, 3347, 3407, 3467, 3527, 3724, 3784, 3844, 3904, 3964, 4024, 4084, 4144, 4204, 4264, 4324, 4384, 4444, 4504, 4807, 4867, 5007, 5067, 5127, 5187, 5412, 5472, 5532, 5592, 5652, 5870, 5930, 5990, 6050, 6110, 6170, 6230, 6290, 6350, 6410, 6470, 6530, 6590, 6650, 6710, 6770, 6910, 6970, 7030, 7090, 7150, 7210, 7270, 7330, 7390, 7538, 7598, 7658, 7718, 7778, 7838, 7898, 7958, 8018, 8078, 8138, 8198, 8258, 8318, 8378, 8438, 8498, 8558, 8618, 8678, 8738, 8798, 8858, 8918, 8978, 9038, 9625, 9685, 9745, 9805, 9865, 9925, 9975]
more_6218 = [30, 85, 222, 282, 342, 402, 462, 522, 582, 642, 702, 762, 822, 882, 942, 1002, 1062, 1122, 1182, 1353, 1413, 1473, 1533, 1593, 1653, 1713, 1773, 1833, 1893, 1953, 2013, 2073, 2133, 2193, 2253, 2313, 2373, 2433, 2493, 2553, 2613, 2673, 2733, 2793, 2853, 2913, 2973, 3033, 3093, 3153, 3213, 3273, 3474, 3534, 3594, 3654, 3714, 3774, 3834, 3894, 3954, 4014, 4074, 4134, 4194, 4383, 4443, 4503, 4694, 4754, 4814, 4874, 5007, 5067, 5127, 5187, 5247, 5307, 5465, 5675, 5991, 6051, 6111, 6171, 6231, 6291, 6351, 6411, 6471, 6531, 6591, 6651, 6711, 6771, 6831, 6891, 6951, 7011, 7071, 7131, 7191, 7251, 7311, 7371, 7431, 7648, 7708, 7768, 7828, 7888, 7948, 8146, 8206, 8266, 8522, 8582, 9008, 9068, 9128, 9188, 9248, 9308, 9368, 9428, 9488, 9548, 9608, 9668, 9728, 9788, 9848, 9900]
more_6217 = [40, 181, 241, 301, 361, 421, 481, 541, 630, 694, 754, 814, 874, 934, 994, 1054, 1114, 1174, 1234, 1294, 1354, 1414, 1474, 1534, 1594, 1654, 1714, 1774, 1834, 1894, 1954, 2014, 2074, 2134, 2194, 2254, 2314, 2374, 2434, 2494, 2554, 2614, 2674, 2734, 2794, 2854, 2914, 3090, 3150, 3210, 3270, 3330, 3390, 3450, 3510, 3570, 3630, 3690, 3750, 3810, 3870, 3930, 3990, 4050, 4110, 4170, 4230, 4290, 4350, 4410, 4470, 4530, 4590, 4650, 4710, 4770, 4830, 4890, 5007, 5067, 5127, 5187, 5247, 5307, 5367, 5427, 5487, 5547, 5607, 5667, 5727, 5787, 5847, 5907, 5967, 6027, 6087, 6147, 6207, 6267, 6327, 6387, 6447, 6507, 6567, 6627, 6687, 6747, 6807, 6867, 6927, 6987, 7047, 7107, 7167, 7227, 7287, 7347, 7407, 7467, 7527, 7587, 7647, 7707, 7767, 7830, 7980, 8118, 8178, 8238, 8298, 8358, 8418, 8478, 8672, 8732, 8792, 8852, 8912, 8972, 9032, 9092, 9152, 9212, 9272, 9332, 9392, 9452, 9512, 9572, 9632, 9692, 9752, 9812, 9872, 9932]
more_6216 = [129, 189, 249, 309, 369, 585, 645, 868, 928, 988, 1048, 1108, 1168, 1365, 1425, 1485, 1545, 1757, 1817, 1877, 2068, 2282, 2342, 2402, 2747, 2807, 2867, 2927, 2987, 3047, 3107, 3167, 3227, 3287, 3347, 3534, 3594, 3654, 3714, 3774, 3834, 3894, 3954, 4014, 4074, 4134, 4194, 4403, 4463, 4523, 4583, 4643, 4703, 4763, 4823, 5007, 5067, 5127, 5187, 5247, 5307, 5367, 5870, 5930, 5990, 6050, 6110, 6170, 6230, 6290, 6350, 6410, 6470, 6951, 7011, 7071, 7131, 7191, 7251, 7311, 7371, 7431, 7491, 7551, 7611, 7781, 7841, 7901, 7961, 8021, 8081, 8141, 8201, 8261, 8321, 8381, 8441, 8501, 8561, 8621, 8681, 8741, 8801, 8861, 8921, 8981, 9041, 9101, 9161, 9221, 9281, 9341, 9401, 9461, 9521, 9581, 9641, 9701, 9899]
more_6215 = [40, 100, 282, 342, 402, 462, 522, 582, 642, 702, 762, 961, 1021, 1081, 1141, 1201, 1261, 1426, 1486, 1546, 1728, 1788, 1848, 1908, 1968, 2028, 2201, 2261, 2321, 2537, 2597, 2657, 2717, 2777, 2837, 2897, 2957, 3017, 3077, 3137, 3197, 3257, 3317, 3377, 3437, 3497, 3557, 3617, 3677, 3737, 3797, 3857, 3917, 3977, 4037, 4097, 4157, 4217, 4277, 4337, 4397, 4457, 4646, 4706, 4766, 4826, 5007, 5067, 5127, 5412, 5472, 5532, 5592, 5652, 5712, 5772, 5832, 5892, 5952, 6012, 6072, 6132, 6192, 6252, 6312, 6372, 6432, 6492, 6552, 6612, 6672, 6732, 6792, 6852, 6912, 6972, 7032, 7092, 7283, 7343, 7403, 7463, 7523, 7583, 7643, 7703, 7763, 7823, 7883, 7943, 8003, 8063, 8123, 8183, 8243, 8303, 8363, 8423, 8483, 8543, 8603, 8663, 8723, 8783, 8843, 8903, 8963, 9023, 9083, 9143, 9348, 9408, 9468, 9528, 9588, 9648, 9708, 9768, 9828, 9888, 9948]
more_6214 = [30, 90, 150, 290, 350, 410, 634, 694, 754, 1070, 1130, 1190, 1250, 1310, 1370, 1430, 1490, 1550, 1610, 1670, 1730, 1790, 1850, 1910, 1970, 2030, 2090, 2150, 2210, 2270, 2330, 2390, 2450, 2510, 2570, 2630, 2868, 2928, 3098, 3158, 3218, 3278, 3338, 3398, 3458, 3518, 3578, 3638, 3698, 3758, 3979, 4039, 4099, 4310, 4370, 4430, 4490, 4550, 5007, 5067, 5127, 5302, 5362, 5422, 5482, 5542, 5602, 5662, 5722, 5782, 5842, 5902, 5962, 6022, 6082, 6142, 6202, 6598, 6658, 6718, 6778, 6838, 7072, 7132, 7192, 7252, 7312, 7526, 7586, 7646, 7706, 7766, 7826, 7886, 7946, 8006, 8066, 8126, 8186, 8409, 8469, 8529, 8589, 8834, 8894, 8954, 9014, 9074, 9134, 9194, 9254, 9314, 9374, 9434, 9494, 9554, 9847, 9907]
more_6213 = [48, 108, 310, 370, 430, 490, 550, 610, 670, 730, 790, 850, 910, 1050, 1110, 1170, 1393, 1453, 1513, 1573, 1633, 1693, 1753, 1813, 1873, 1933, 1993, 2053, 2113, 2173, 2233, 2293, 2353, 2413, 2473, 2533, 2593, 2653, 2713, 2916, 2976, 3036, 3096, 3156, 3216, 3276, 3336, 3396, 3456, 3516, 3576, 3636, 3696, 3756, 3816, 3876, 4193, 4253, 4313, 4373, 4433, 4493, 4553, 4613, 4799, 4859, 5007, 5067, 5127, 5187, 5247, 5307, 5367, 5427, 5487, 5547, 5607, 5667, 5727, 5787, 5847, 5907, 6141, 6201, 6261, 6321, 6381, 6566, 6626, 6686, 6746, 6806, 6866, 6926, 6986, 7046, 7106, 7166, 7226, 7286, 7346, 7406, 7466, 7526, 7586, 7646, 7706, 7766, 7826, 7886, 7946, 8006, 8066, 8126, 8186, 8246, 8306, 8366, 8426, 8486, 8546, 8606, 8666, 8726, 8786, 8846, 8906, 8966, 9026, 9086, 9146, 9206, 9266, 9326, 9386, 9563, 9623, 9683, 9743, 9803, 9863, 9923, 9975]
more_6212 = [30, 90, 150, 331, 391, 451, 511, 571, 631, 691, 751, 811, 871, 931, 991, 1051, 1112, 1543, 1603, 1663, 1723, 1783, 1843, 1903, 1963, 2023, 2083, 2143, 2960, 3020, 3080, 3140, 3200, 3260, 3320, 3380, 3440, 3500, 3560, 3620, 3680, 3740, 3800, 3860, 4039, 4099, 4159, 4219, 4279, 4339, 4399, 5007, 5067, 5704, 5764, 5824, 5884, 5944, 6004, 6242, 6302, 6362, 6422, 6482, 6542, 6602, 6662, 6722, 6782, 6842, 6902, 6962, 7022, 7082, 7142, 7202, 7262, 7322, 7382, 7442, 7502, 7562, 7622, 7682, 7742, 7802, 8194, 8254, 8314, 8374, 8434, 8494, 8554, 8614, 8674, 8734, 8794, 8854, 8914, 8974, 9034, 9094, 9154, 9214, 9274, 9334, 9394, 9454, 9514, 9574, 9634, 9694, 9754, 9814]

levels = [6241, 6239, 6238, 6237, 6236, 6235, 6234, 6233, 6232, 6231, 6230, 6229, 6228,
          6227, 6226, 6225, 6224, 6223, 6222, 6221, 6220, 6219, 6218, 6217, 6216, 6215,
          6214, 6213, 6212, 6211, 6210, 6209, 6208, 6207, 6206, 6205, 6204, 6203, 6202,
          6201, 6200, 6199, 6198, 6197, 6196, 6195, 6194, 6193, 6192,
          6219, 6218, 6217, 6216, 6215, 6214, 6213, 6212]
rows = [x_6241, x_6239, x_6238, x_6237, x_6236, x_6235, x_6234, x_6233, x_6232, x_6231, x_6230, x_6229, x_6228,
        x_6227, x_6226, x_6225, x_6224, x_6223, x_6222, x_6221, x_6220, x_6219, x_6218, x_6217, x_6216, x_6215,
        x_6214, x_6213, x_6212, x_6211, x_6210, x_6209, x_6208, x_6207, x_6206, x_6205, x_6204, x_6203, x_6202,
        x_6201, x_6200, x_6199, x_6198, x_6197, x_6196, x_6195, x_6194, x_6193, x_6192,
        more_6219, more_6218, more_6217, more_6216, more_6215, more_6214, more_6213, more_6212]

samples = [s for row in rows for s in row]
counts = [lev for lev, row in zip(levels, rows) for _ in row]

fig, ax = plt.subplots(figsize=(10, 10), dpi=100)
ax.plot(samples, counts, "k.", label=legend_label)
ax.set_title(title)
ax.set_xlabel("Sample #")
ax.set_ylabel("ADC Counts")
ax.grid(True)
ax.legend(loc="upper right")
fig.tight_layout()
fig.subplots_adjust(top=0.965)
fig.savefig("out.png", dpi=100)
